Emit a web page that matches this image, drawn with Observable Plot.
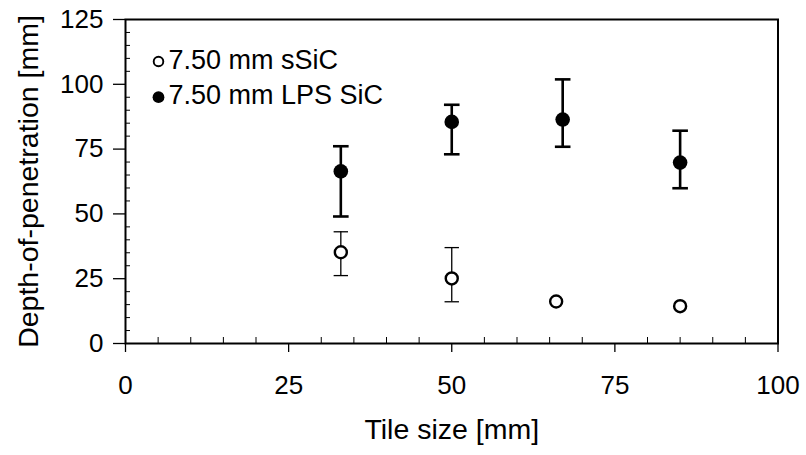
<!DOCTYPE html>
<html>
<head>
<meta charset="utf-8">
<script src="https://cdn.jsdelivr.net/npm/d3@7"></script>
<script src="https://cdn.jsdelivr.net/npm/@observablehq/plot@0.6"></script>
<style>
  html, body { margin: 0; padding: 0; background: #fff; }
  #chart { width: 806px; height: 455px; }
</style>
</head>
<body>
<div id="chart"></div>
<script>
// ---- data ----
const seriesNames = ["7.50 mm sSiC", "7.50 mm LPS SiC"];

// 7.50 mm sSiC (open circles)
const sTile = [33, 50, 66, 85];
const sDop  = [35.2, 25.1, 16.2, 14.4];
const sLo   = [26.2, 16.1, null, null];
const sHi   = [43.1, 37.0, null, null];

// 7.50 mm LPS SiC (filled circles)
const lTile = [33, 50, 67, 85];
const lDop  = [66.4, 85.5, 86.4, 69.8];
const lLo   = [49.0, 73.0, 75.9, 59.9];
const lHi   = [76.1, 92.1, 101.9, 82.1];

// axis ticks
const xTicks = [0, 25, 50, 75, 100];
const yTicks = [0, 25, 50, 75, 100, 125];
const xMinor = [5, 10, 15, 20, 30, 35, 40, 45, 55, 60, 65, 70, 80, 85, 90, 95];
const yMinor = [5, 10, 15, 20, 30, 35, 40, 45, 55, 60, 65, 70, 80, 85, 90, 95, 105, 110, 115, 120];

const xLabel = "Tile size [mm]";
const yLabel = "Depth-of-penetration [mm]";

// ---- tables built from the arrays ----
const sData = sTile.map((x, i) => ({x, y: sDop[i], lo: sLo[i], hi: sHi[i]}));
const lData = lTile.map((x, i) => ({x, y: lDop[i], lo: lLo[i], hi: lHi[i]}));
const sErr = sData.filter(d => d.lo != null);
const capsOf = rows => rows.flatMap(d => [{x: d.x, y: d.lo}, {x: d.x, y: d.hi}]);

// horizontal-line symbol for error-bar caps
const capSymbol = {
  draw(ctx, size) {
    const w = Math.sqrt(size / Math.PI);
    ctx.moveTo(-w, 0);
    ctx.lineTo(w, 0);
  }
};

const FONT = "'Liberation Sans', Arial, Helvetica, sans-serif";
const FS = 26;     // tick labels
const FT = 28.5;   // axis titles
const FL = 27;     // legend

const chart = Plot.plot({
  width: 806,
  height: 455,
  marginLeft: 125,
  marginRight: 28.5,
  marginTop: 19,
  marginBottom: 112,
  x: {domain: [0, 100]},
  y: {domain: [0, 125]},
  style: {fontFamily: FONT, fontSize: FS + "px", color: "black", background: "white", overflow: "visible"},
  marks: [
    // axes: major ticks outside, minor ticks inside
    Plot.axisX(xTicks, {anchor: "bottom", tickSize: 9, tickPadding: 23, fontSize: FS, label: null, strokeWidth: 1.3}),
    Plot.axisX(xMinor, {anchor: "bottom", tickSize: 6, dy: -6, fill: "none", label: null, strokeWidth: 1}),
    Plot.axisY(yTicks, {anchor: "left", tickSize: 12, tickPadding: 10, fontSize: FS, label: null, strokeWidth: 1.3}),
    Plot.axisY(yMinor, {anchor: "left", tickSize: 5, dx: 5, fill: "none", label: null, strokeWidth: 1}),

    // axis titles
    Plot.text([xLabel], {frameAnchor: "bottom", dy: 86, textAnchor: "middle", lineAnchor: "middle", fontSize: FT, fill: "black"}),
    Plot.text([yLabel], {frameAnchor: "left", dx: -97, rotate: -90, textAnchor: "middle", lineAnchor: "middle", fontSize: FT, fill: "black"}),

    // error bars - sSiC (thin)
    Plot.ruleX(sErr, {x: "x", y1: "lo", y2: "hi", stroke: "black", strokeWidth: 1.3}),
    Plot.dot(capsOf(sErr), {x: "x", y: "y", symbol: capSymbol, r: 7.2, fill: "none", stroke: "black", strokeWidth: 1.3}),

    // error bars - LPS SiC (thick)
    Plot.ruleX(lData, {x: "x", y1: "lo", y2: "hi", stroke: "black", strokeWidth: 2.6}),
    Plot.dot(capsOf(lData), {x: "x", y: "y", symbol: capSymbol, r: 7.8, fill: "none", stroke: "black", strokeWidth: 2.6}),

    // points
    Plot.dot(sData, {x: "x", y: "y", r: 6, fill: "white", stroke: "black", strokeWidth: 2.4}),
    Plot.dot(lData, {x: "x", y: "y", r: 7.3, fill: "black", stroke: "none"}),

    // legend
    Plot.dot([seriesNames[0]], {frameAnchor: "top-left", dx: 33, dy: 42, r: 4.8, fill: "white", stroke: "black", strokeWidth: 1.9}),
    Plot.dot([seriesNames[1]], {frameAnchor: "top-left", dx: 33, dy: 77.7, r: 5.9, fill: "black", stroke: "none"}),
    Plot.text([seriesNames[0]], {frameAnchor: "top-left", dx: 43, dy: 40.5, textAnchor: "start", lineAnchor: "middle", fontSize: FL, fill: "black"}),
    Plot.text([seriesNames[1]], {frameAnchor: "top-left", dx: 43, dy: 75.5, textAnchor: "start", lineAnchor: "middle", fontSize: FL, fill: "black"}),

    // plot frame
    Plot.frame({stroke: "black", strokeWidth: 2})
  ]
});

document.getElementById("chart").appendChild(chart);
</script>
</body>
</html>
